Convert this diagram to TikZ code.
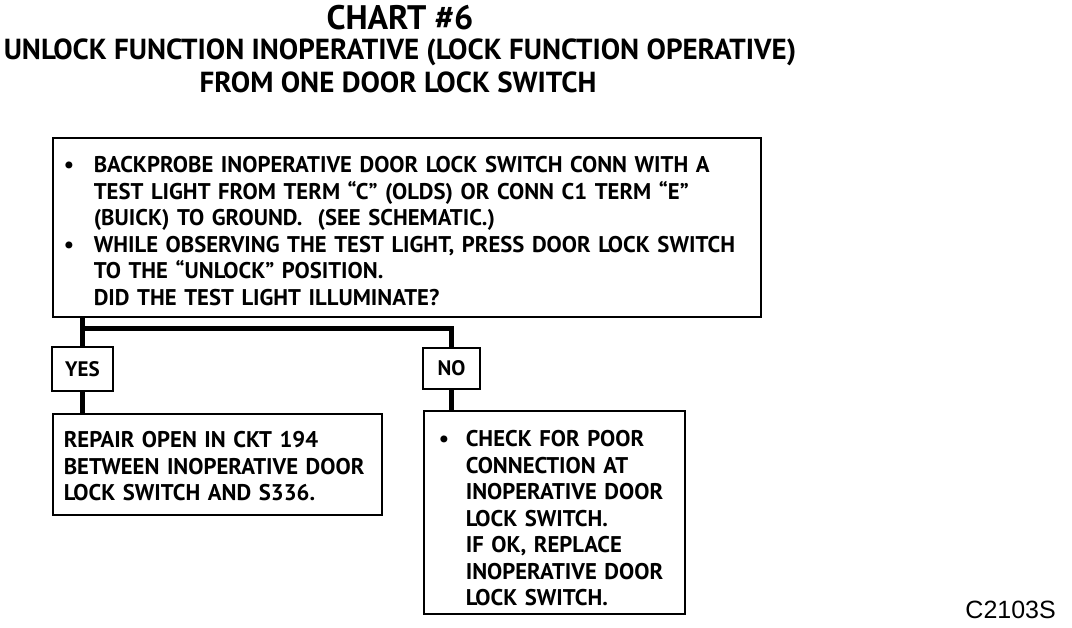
\documentclass[tikz,border=0pt]{standalone}
\usepackage{fontspec}
\setmainfont{PT Sans}
\newfontfamily\codefont{Liberation Sans}
\usetikzlibrary{positioning}

\begin{document}
\begin{tikzpicture}[
  x=1pt, y=-1pt,
  box/.style={draw, line width=1.6pt, align=left, anchor=north west, inner ysep=0pt,
    font=\fontsize{22.7}{26.5}\selectfont\bfseries},
  tag/.style={draw, line width=1.6pt, inner sep=0pt, font=\fontsize{21}{21}\selectfont\bfseries},
  title/.style={font=\fontsize{29}{29}\selectfont\bfseries, inner sep=0pt},
  link/.style={line width=5pt}
]
\useasboundingbox (0,0) rectangle (1072,628);
\newcommand{\bul}[1]{\makebox[#1][l]{\textbullet}}
\newcommand{\lift}[1]{\rule{0pt}{#1}}

% headings
\node[title, font=\fontsize{34}{34}\selectfont\bfseries] (chart) at (400,18) {CHART \#6};
\node[title] (head1) at (400,52) {UNLOCK FUNCTION INOPERATIVE (LOCK FUNCTION OPERATIVE)};
\node[title] (head2) at (398,82) {FROM ONE DOOR LOCK SWITCH};

% question
\node[box, inner xsep=11pt, minimum width=708pt, minimum height=179pt, text width=686pt] (main) at (52,137)
  {\lift{24pt}\bul{30pt}BACKPROBE INOPERATIVE DOOR LOCK SWITCH CONN WITH A\\
   \hspace*{30pt}TEST LIGHT FROM TERM “C” (OLDS) OR CONN C1 TERM “E”\\
   \hspace*{30pt}(BUICK) TO GROUND.\ \ (SEE SCHEMATIC.)\\
   \bul{30pt}WHILE OBSERVING THE TEST LIGHT, PRESS DOOR LOCK SWITCH\\
   \hspace*{30pt}TO THE “UNLOCK” POSITION.\\
   \hspace*{30pt}DID THE TEST LIGHT ILLUMINATE?};

% answers
\node[tag, minimum width=61pt, minimum height=44pt] (yes) at (82.5,369) {YES};
\node[tag, minimum width=57pt, minimum height=41pt] (no) at (451.5,368.5) {NO};

% results
\node[box, inner xsep=11pt, minimum width=329pt, minimum height=101pt, text width=307pt] (repair) at (52,413)
  {\lift{20pt}REPAIR OPEN IN CKT 194\\
   BETWEEN INOPERATIVE DOOR\\
   LOCK SWITCH AND S336.};
\node[box, inner xsep=15pt, minimum width=261pt, minimum height=203pt, text width=231pt] (check) at (423,410)
  {\lift{28pt}\bul{27pt}CHECK FOR POOR\\
   \hspace*{27pt}CONNECTION AT\\
   \hspace*{27pt}INOPERATIVE DOOR\\
   \hspace*{27pt}LOCK SWITCH.\\
   \hspace*{27pt}IF OK, REPLACE\\
   \hspace*{27pt}INOPERATIVE DOOR\\
   \hspace*{27pt}LOCK SWITCH.};

\node[font=\codefont\fontsize{25}{25}\selectfont, anchor=east, inner sep=0pt] (code) at (1056,610) {C2103S};

% connectors
\coordinate (split) at (83,329);
\draw[link] (main.south -| yes.north) -- (yes.north);
\draw[link] (split) -| (no.north);
\draw[link] (yes.south) -- (yes.south |- repair.north);
\draw[link] (no.south) -- (no.south |- check.north);
\end{tikzpicture}
\end{document}
